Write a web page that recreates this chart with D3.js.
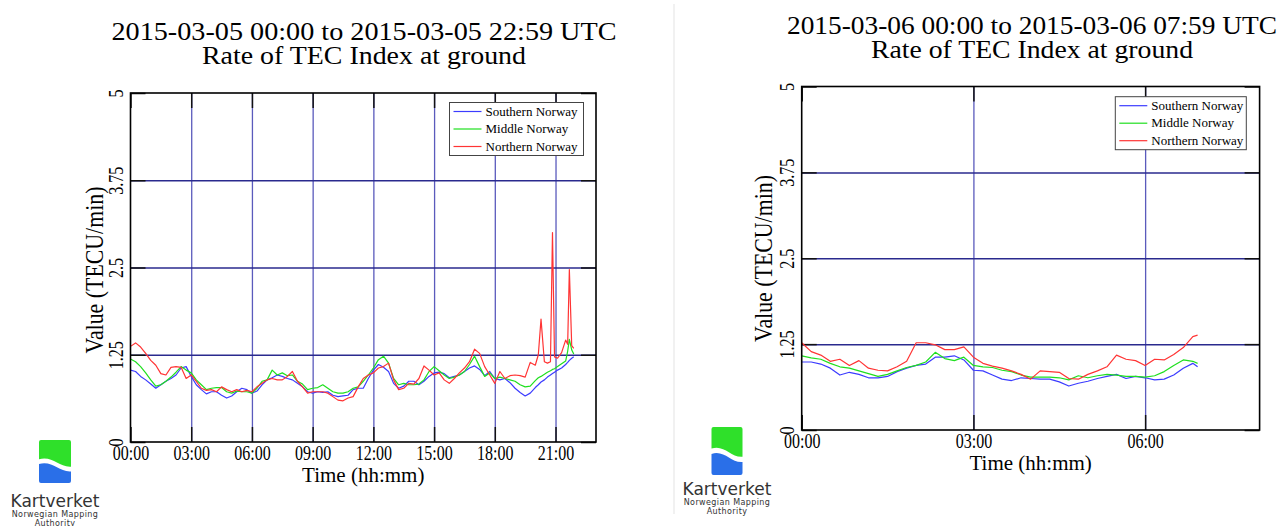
<!DOCTYPE html>
<html lang="en">
<head>
<meta charset="UTF-8">
<title>Rate of TEC Index at ground</title>
<style>
  body { margin: 0; background: #fff; }
  svg { display: block; }
  text { font-family: "Liberation Serif", "Times New Roman", serif; fill: #000; }
  .logo text { font-family: "DejaVu Sans", sans-serif; fill: #333; }
</style>
</head>
<body>
<svg id="chart" width="1279" height="526"></svg>
<script src="https://cdn.jsdelivr.net/npm/d3@7"></script>
<script>
// ---- data ----
const seriesNames = ["Southern Norway", "Middle Norway", "Northern Norway"];
const yTicks = [0, 1.25, 2.5, 3.75, 5];
const dayHourTicks = [0, 3, 6, 9, 12, 15, 18, 21];
const nightHourTicks = [0, 3, 6];

// 2015-03-05, minutes after 00:00
const dayMinutes = [
  0, 15, 30, 45, 60, 75, 90, 105, 120, 135, 150, 165, 180, 195, 210, 225,
  240, 255, 270, 285, 300, 315, 330, 345, 360, 375, 390, 405, 420, 435, 450, 465,
  480, 495, 510, 525, 540, 555, 570, 585, 600, 615, 630, 645, 660, 675, 690, 705,
  720, 735, 750, 765, 780, 795, 810, 825, 840, 855, 870, 885, 900, 915, 930, 945,
  960, 975, 990, 1005, 1020, 1035, 1050, 1065, 1080, 1095, 1110, 1125, 1140, 1155, 1170, 1185,
  1200, 1209, 1217, 1227, 1236, 1245, 1251, 1257, 1266, 1278, 1290, 1296, 1301, 1308, 1314
];
const daySouth = [
  1.03, 1.01, 0.94, 0.89, 0.83, 0.77, 0.82, 0.87, 0.91, 0.96, 1.06, 1.08, 0.94, 0.82, 0.75, 0.69,
  0.72, 0.72, 0.67, 0.63, 0.66, 0.72, 0.77, 0.75, 0.70, 0.73, 0.82, 0.89, 0.92, 0.96, 0.94, 0.91,
  0.89, 0.84, 0.79, 0.72, 0.70, 0.72, 0.71, 0.72, 0.67, 0.65, 0.66, 0.67, 0.75, 0.77, 0.77, 0.91,
  1.03, 1.11, 1.07, 1.01, 0.84, 0.77, 0.80, 0.87, 0.87, 0.82, 0.87, 0.94, 0.99, 1.00, 0.98, 0.92,
  0.94, 0.96, 1.01, 1.06, 1.09, 1.04, 0.95, 1.01, 0.91, 0.89, 0.91, 0.85, 0.77, 0.71, 0.66, 0.70,
  0.78, 0.82, 0.86, 0.89, 0.93, 0.96, 0.98, 1.00, 1.03, 1.06, 1.11, 1.14, 1.17, 1.20, 1.22
];
const dayMiddle = [
  1.19, 1.15, 1.08, 0.99, 0.89, 0.80, 0.82, 0.87, 0.93, 1.00, 1.08, 1.03, 0.99, 0.89, 0.82, 0.75,
  0.77, 0.78, 0.78, 0.72, 0.70, 0.73, 0.72, 0.72, 0.70, 0.77, 0.87, 0.89, 1.03, 0.96, 0.99, 0.95,
  0.96, 0.87, 0.83, 0.75, 0.77, 0.78, 0.82, 0.77, 0.72, 0.70, 0.70, 0.72, 0.77, 0.79, 0.87, 0.96,
  1.06, 1.18, 1.23, 1.13, 0.91, 0.82, 0.84, 0.82, 0.82, 0.83, 0.89, 1.01, 1.08, 1.02, 0.96, 0.91,
  0.93, 0.96, 1.01, 1.11, 1.23, 1.08, 0.94, 0.99, 0.91, 0.93, 0.91, 0.89, 0.87, 0.82, 0.79, 0.80,
  0.88, 0.92, 0.94, 0.97, 1.00, 1.02, 1.04, 1.05, 1.08, 1.12, 1.16, 1.30, 1.47, 1.32, 1.26
];
const dayNorth = [
  1.37, 1.42, 1.36, 1.27, 1.17, 1.10, 0.98, 0.96, 1.07, 1.08, 1.07, 0.91, 0.96, 0.87, 0.77, 0.74,
  0.75, 0.72, 0.79, 0.75, 0.72, 0.75, 0.72, 0.74, 0.72, 0.79, 0.84, 0.89, 0.91, 0.89, 0.89, 0.94,
  1.01, 0.87, 0.79, 0.70, 0.72, 0.72, 0.72, 0.70, 0.65, 0.60, 0.59, 0.63, 0.65, 0.79, 0.91, 0.96,
  0.99, 1.06, 1.08, 1.13, 0.89, 0.75, 0.77, 0.84, 0.83, 0.91, 1.09, 1.03, 0.96, 0.99, 0.89, 0.84,
  0.91, 0.99, 1.06, 1.15, 1.33, 1.27, 1.08, 0.96, 0.84, 1.01, 0.91, 0.95, 0.96, 0.95, 0.93, 1.14,
  1.10, 1.25, 1.76, 1.15, 1.13, 1.15, 3.00, 1.22, 1.20, 1.28, 1.46, 1.40, 2.47, 1.38, 1.34
];

// 2015-03-06, minutes after 00:00
const nightMinutes = [
  0, 10, 20, 30, 40, 50, 60, 70, 80, 90, 100, 110, 120, 130, 140, 150,
  160, 170, 180, 190, 200, 210, 220, 230, 240, 250, 260, 270, 280, 290, 300, 310,
  320, 330, 340, 350, 360, 370, 380, 390, 400, 410, 415
];
const nightSouth = [
  0.99, 0.99, 0.96, 0.90, 0.80, 0.84, 0.81, 0.76, 0.76, 0.78, 0.85, 0.90, 0.94, 0.96, 1.06, 1.06,
  1.08, 1.02, 0.87, 0.86, 0.80, 0.74, 0.72, 0.76, 0.75, 0.74, 0.74, 0.70, 0.64, 0.68, 0.71, 0.75,
  0.78, 0.81, 0.75, 0.78, 0.76, 0.73, 0.74, 0.80, 0.90, 0.97, 0.92
];
const nightMiddle = [
  1.08, 1.05, 1.03, 0.97, 0.92, 0.90, 0.86, 0.82, 0.78, 0.81, 0.86, 0.91, 0.94, 0.99, 1.13, 1.04,
  1.01, 1.06, 0.94, 0.92, 0.91, 0.87, 0.85, 0.80, 0.77, 0.77, 0.77, 0.76, 0.73, 0.79, 0.76, 0.79,
  0.81, 0.80, 0.78, 0.78, 0.77, 0.79, 0.85, 0.94, 1.02, 1.00, 0.97
];
const nightNorth = [
  1.27, 1.14, 1.09, 1.00, 1.03, 0.94, 1.01, 0.90, 0.87, 0.86, 0.92, 1.00, 1.27, 1.27, 1.24, 1.17,
  1.17, 1.21, 1.06, 0.97, 0.93, 0.90, 0.86, 0.81, 0.74, 0.86, 0.85, 0.84, 0.75, 0.74, 0.81, 0.86,
  0.92, 1.09, 1.03, 1.01, 0.94, 1.03, 1.02, 1.10, 1.20, 1.36, 1.38
];

// ---- styles ----
const lineColors = ["#3c3cff", "#1fdf1f", "#ff3434"];
const svg = d3.select("#chart");

// faint separator between the two images
svg.append("line")
  .attr("x1", 674).attr("x2", 674).attr("y1", 4).attr("y2", 514)
  .attr("stroke", "#ececec").attr("stroke-width", 1.5);

function drawPanel(p) {
  const x = d3.scaleLinear().domain([0, p.hours]).range([p.left, p.right]);
  const y = d3.scaleLinear().domain([0, 5]).range([p.bottom, p.top]);
  const w = p.right - p.left, h = p.bottom - p.top;
  const g = svg.append("g");

  // grid
  g.append("g").attr("transform", `translate(0,${p.bottom})`)
    .call(d3.axisBottom(x).tickValues(p.xTicks.slice(1)).tickSize(-h).tickFormat(""))
    .call(a => a.select(".domain").remove())
    .selectAll("line").attr("stroke", "#5a5abc").attr("stroke-width", 1.3);
  g.append("g").attr("transform", `translate(${p.left},0)`)
    .call(d3.axisLeft(y).tickValues([1.25, 2.5, 3.75]).tickSize(-w).tickFormat(""))
    .call(a => a.select(".domain").remove())
    .selectAll("line").attr("stroke", "#2a2a8e").attr("stroke-width", 1.5);

  // black inner ticks on all four sides
  const tk = 15;
  [
    [d3.axisBottom(x).tickValues(p.xTicks), `translate(0,${p.bottom})`],
    [d3.axisTop(x).tickValues(p.xTicks), `translate(0,${p.top})`],
    [d3.axisLeft(y).tickValues(yTicks), `translate(${p.left},0)`],
    [d3.axisRight(y).tickValues(yTicks), `translate(${p.right},0)`]
  ].forEach(([ax, tr]) => {
    g.append("g").attr("transform", tr)
      .call(ax.tickSize(-tk).tickFormat(""))
      .call(a => a.select(".domain").remove())
      .selectAll("line").attr("stroke", "#111").attr("stroke-width", 1.5);
  });

  // series
  const line = d3.line().x(d => x(d[0] / 60)).y(d => y(d[1]));
  p.series.forEach((vals, i) => {
    g.append("path")
      .datum(p.minutes.map((m, j) => [m, vals[j]]))
      .attr("fill", "none")
      .attr("stroke", lineColors[i])
      .attr("stroke-width", 1.2)
      .attr("stroke-linejoin", "round")
      .attr("d", line);
  });

  // frame
  g.append("rect")
    .attr("x", p.left).attr("y", p.top).attr("width", w).attr("height", h)
    .attr("fill", "none").attr("stroke", "#000").attr("stroke-width", 1.6);

  // x tick labels
  g.append("g").attr("transform", `translate(0,${p.bottom})`)
    .call(d3.axisBottom(x).tickValues(p.xTicks).tickSize(0)
      .tickFormat(d => String(d).padStart(2, "0") + ":00"))
    .call(a => a.select(".domain").remove())
    .selectAll("text")
    .attr("y", 18).attr("dy", null)
    .attr("transform", "scale(0.8,1)")
    .style("font-size", "20px").style("font-family", "Liberation Serif").attr("fill", "#000");

  // y tick labels (rotated)
  g.append("g").attr("transform", `translate(${p.left},0)`)
    .call(d3.axisLeft(y).tickValues(yTicks).tickSize(0).tickFormat(d => d))
    .call(a => a.select(".domain").remove())
    .selectAll("text")
    .attr("x", null).attr("dy", null)
    .attr("text-anchor", "middle")
    .attr("transform", "translate(-8,0) rotate(-90) scale(0.8,1)")
    .style("font-size", "20px").style("font-family", "Liberation Serif").attr("fill", "#000");

  // axis titles
  g.append("text")
    .attr("transform", `translate(${p.yLabel[0]},${p.yLabel[1]}) rotate(-90) scale(0.875,1)`)
    .attr("text-anchor", "middle").style("font-size", "25px")
    .text("Value (TECU/min)");
  g.append("text")
    .attr("x", (p.left + p.right) / 2).attr("y", p.bottom + 40)
    .attr("text-anchor", "middle").style("font-size", "21px")
    .text("Time (hh:mm)");

  // titles
  p.titles.forEach((t, i) => {
    g.append("text")
      .attr("x", p.titleX).attr("y", p.titleY[i])
      .attr("text-anchor", "middle").style("font-size", "26px")
      .attr("textLength", p.titleW[i]).attr("lengthAdjust", "spacingAndGlyphs")
      .text(t);
  });

  // legend
  const lg = g.append("g").attr("transform", `translate(${p.legend[0]},${p.legend[1]})`);
  lg.append("rect").attr("width", p.legend[2]).attr("height", 53)
    .attr("fill", "#fff").attr("stroke", "#444").attr("stroke-width", 1);
  seriesNames.forEach((n, i) => {
    const ry = 9 + i * 17.5;
    lg.append("line").attr("x1", 4).attr("x2", 32).attr("y1", ry).attr("y2", ry)
      .attr("stroke", lineColors[i]).attr("stroke-width", 1.2);
    lg.append("text").attr("x", 36).attr("y", ry).attr("dy", "0.33em")
      .style("font-size", "13px").text(n);
  });
}

function drawLogo(cx, top, w, h, base) {
  const g = svg.append("g").attr("class", "logo");
  const x0 = cx - w / 2, r = 2;
  g.append("path").attr("fill", "#2fe02a").attr("d",
    `M${x0},${top + r} Q${x0},${top} ${x0 + r},${top} H${x0 + w - r} Q${x0 + w},${top} ${x0 + w},${top + r}` +
    ` V${top + 0.62 * h} C${x0 + 0.62 * w},${top + 0.64 * h} ${x0 + 0.42 * w},${top + 0.36 * h} ${x0},${top + 0.45 * h} Z`);
  g.append("path").attr("fill", "#2a6fe8").attr("d",
    `M${x0},${top + 0.56 * h} C${x0 + 0.42 * w},${top + 0.47 * h} ${x0 + 0.62 * w},${top + 0.75 * h} ${x0 + w},${top + 0.73 * h}` +
    ` V${top + h - r} Q${x0 + w},${top + h} ${x0 + w - r},${top + h} H${x0 + r} Q${x0},${top + h} ${x0},${top + h - r} Z`);
  g.append("text").attr("x", cx).attr("y", base).attr("text-anchor", "middle")
    .style("font-size", "17px").text("Kartverket");
  g.append("text").attr("x", cx).attr("y", base + 10).attr("text-anchor", "middle")
    .style("font-size", "8px").style("letter-spacing", "0.4px").text("Norwegian Mapping");
  g.append("text").attr("x", cx).attr("y", base + 19).attr("text-anchor", "middle")
    .style("font-size", "8px").style("letter-spacing", "0.4px").text("Authority");
}

drawPanel({
  left: 130.5, right: 596, top: 93, bottom: 442, hours: 23,
  xTicks: dayHourTicks, minutes: dayMinutes, series: [daySouth, dayMiddle, dayNorth],
  yLabel: [103, 270], titleX: 364, titleY: [40, 64], titleW: [505, 324],
  titles: ["2015-03-05 00:00 to 2015-03-05 22:59 UTC", "Rate of TEC Index at ground"],
  legend: [449.5, 102.5, 134]
});
drawPanel({
  left: 801.7, right: 1259.6, top: 86.5, bottom: 430, hours: 8,
  xTicks: nightHourTicks, minutes: nightMinutes, series: [nightSouth, nightMiddle, nightNorth],
  yLabel: [772, 258.5], titleX: 1032, titleY: [34, 58], titleW: [490, 322],
  titles: ["2015-03-06 00:00 to 2015-03-06 07:59 UTC", "Rate of TEC Index at ground"],
  legend: [1115.3, 96.7, 131]
});

drawLogo(55, 440, 32, 43, 507);
drawLogo(727, 427, 31, 48, 495);
</script>
</body>
</html>
